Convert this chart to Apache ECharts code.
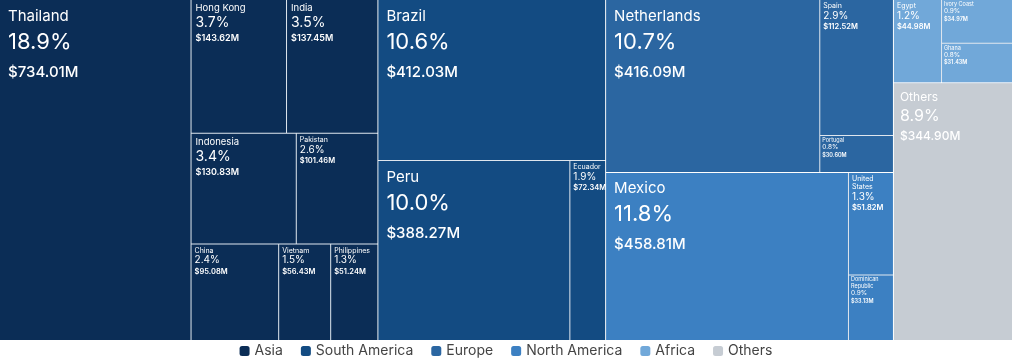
<!DOCTYPE html>
<html><head><meta charset="utf-8">
<script src="https://cdn.jsdelivr.net/npm/echarts@6/dist/echarts.min.js"></script>
<style>html,body{margin:0;padding:0;background:#fff}#chart{width:1012px;height:359px}</style>
</head><body><div id="chart"></div>
<script>
const regions = ['Asia', 'South America', 'Europe', 'North America', 'Africa', 'Others'];
const asiaNames = ['Thailand', 'Hong Kong', 'India', 'Indonesia', 'Pakistan', 'China', 'Vietnam', 'Philippines'];
const asiaValues = [734.01, 143.62, 137.45, 130.83, 101.46, 95.08, 56.43, 51.24];
const southAmericaNames = ['Brazil', 'Peru', 'Ecuador'];
const southAmericaValues = [412.03, 388.27, 72.34];
const europeNames = ['Netherlands', 'Spain', 'Portugal'];
const europeValues = [416.09, 112.52, 30.60];
const northAmericaNames = ['Mexico', 'United States', 'Dominican Republic'];
const northAmericaValues = [458.81, 51.82, 33.13];
const africaNames = ['Egypt', 'Ivory Coast', 'Ghana'];
const africaValues = [44.98, 34.97, 31.43];
const othersValues = [344.90];

// style palette (one colour per region, same order as regions)
const regionColors = ['#0b2d56', '#134b82', '#2b66a1', '#3c80c2', '#71a8d9', '#c6ccd3'];

const groups = [
  [asiaNames, asiaValues],
  [southAmericaNames, southAmericaValues],
  [europeNames, europeValues],
  [northAmericaNames, northAmericaValues],
  [africaNames, africaValues]
];
const allValues = [].concat(asiaValues, southAmericaValues, europeValues, northAmericaValues, africaValues, othersValues);
const total = allValues.reduce((a, b) => a + b, 0);

function tier(v) {
  if (v >= 380) return 'a';
  if (v >= 300) return 'b';
  if (v >= 120) return 'c';
  if (v >= 40) return 'd';
  return 'e';
}
const tierPadding = { a: [6, 8], b: [6, 6], c: [2, 4], d: [2, 3], e: [1, 2] };

function leaf(name, value, color) {
  const t = tier(value);
  return {
    name: name,
    value: value,
    itemStyle: { color: color },
    label: { padding: tierPadding[t] }
  };
}

const treeData = groups.map((g, i) => ({
  name: regions[i],
  itemStyle: { color: regionColors[i], borderColor: '#dfe6ee' },
  children: g[0].map((n, j) => leaf(n, g[1][j], regionColors[i]))
}));
treeData.push(leaf(regions[5], othersValues[0], regionColors[5]));

const FONT = 'Inter, Roboto, sans-serif';
const rich = {
  an: { fontSize: 15, lineHeight: 20, color: '#fff', fontFamily: FONT },
  ap: { fontSize: 22, lineHeight: 32, color: '#fff', fontFamily: FONT },
  av: { fontSize: 15, lineHeight: 28, color: '#fff', fontFamily: FONT, fontWeight: 500 },
  bn: { fontSize: 12, lineHeight: 16, color: '#fff', fontFamily: FONT },
  bp: { fontSize: 16, lineHeight: 22, color: '#fff', fontFamily: FONT },
  bv: { fontSize: 12, lineHeight: 18, color: '#fff', fontFamily: FONT, fontWeight: 500 },
  cn: { fontSize: 9.5, lineHeight: 12, color: '#fff', fontFamily: FONT },
  cp: { fontSize: 14, lineHeight: 18, color: '#fff', fontFamily: FONT },
  cv: { fontSize: 9, lineHeight: 13, color: '#fff', fontFamily: FONT, fontWeight: 600 },
  dn: { fontSize: 7, lineHeight: 8, color: '#fff', fontFamily: FONT },
  dp: { fontSize: 10, lineHeight: 12, color: '#fff', fontFamily: FONT },
  dv: { fontSize: 7.5, lineHeight: 10, color: '#fff', fontFamily: FONT, fontWeight: 600 },
  en: { fontSize: 5.5, lineHeight: 6.5, color: '#fff', fontFamily: FONT },
  ep: { fontSize: 6.5, lineHeight: 8, color: '#fff', fontFamily: FONT },
  ev: { fontSize: 5.5, lineHeight: 7, color: '#fff', fontFamily: FONT, fontWeight: 600 }
};

function labelName(name, t) {
  // narrow small cells wrap long two-word names
  if ((t === 'd' || t === 'e') && name.length > 12) return name.split(' ').map(w => '{' + t + 'n|' + w + '}').join('\n');
  return '{' + t + 'n|' + name + '}';
}

const chart = echarts.init(document.getElementById('chart'), null, { renderer: 'canvas' });
chart.setOption({
  animation: false,
  legend: {
    data: regions,
    top: 344,
    left: 'center',
    padding: 0,
    itemWidth: 10,
    itemHeight: 10,
    itemGap: 18,
    icon: 'roundRect',
    textStyle: { fontSize: 14, color: '#444', fontFamily: FONT }
  },
  series: [
    {
      type: 'treemap',
      left: 0, top: 0, right: 0, bottom: 19,
      roam: false,
      nodeClick: false,
      sort: false,
      squareRatio: 1,
      breadcrumb: { show: false },
      visibleMin: 0,
      label: {
        show: true,
        position: 'insideTopLeft',
        overflow: 'none',
        formatter: function (p) {
          const t = tier(p.value);
          const pct = (p.value / total * 100).toFixed(1) + '%';
          const val = '$' + p.value.toFixed(2) + 'M';
          return labelName(p.name, t) + '\n{' + t + 'p|' + pct + '}\n{' + t + 'v|' + val + '}';
        },
        rich: rich
      },
      upperLabel: { show: false },
      itemStyle: { borderWidth: 0, gapWidth: 1, borderColor: '#e4eaf1' },
      levels: [
        { itemStyle: { borderWidth: 0, gapWidth: 1, borderColor: '#ffffff' } },
        { itemStyle: { borderWidth: 0, gapWidth: 1, borderColor: '#dfe6ee' } },
        { itemStyle: { borderWidth: 0, gapWidth: 0 } }
      ],
      data: treeData
    },
    {
      type: 'pie',
      silent: true,
      radius: [0, 0],
      center: [-200, -200],
      label: { show: false },
      labelLine: { show: false },
      data: regions.map((r, i) => ({ name: r, value: 1, itemStyle: { color: regionColors[i] } }))
    }
  ]
});
</script>
</body></html>
